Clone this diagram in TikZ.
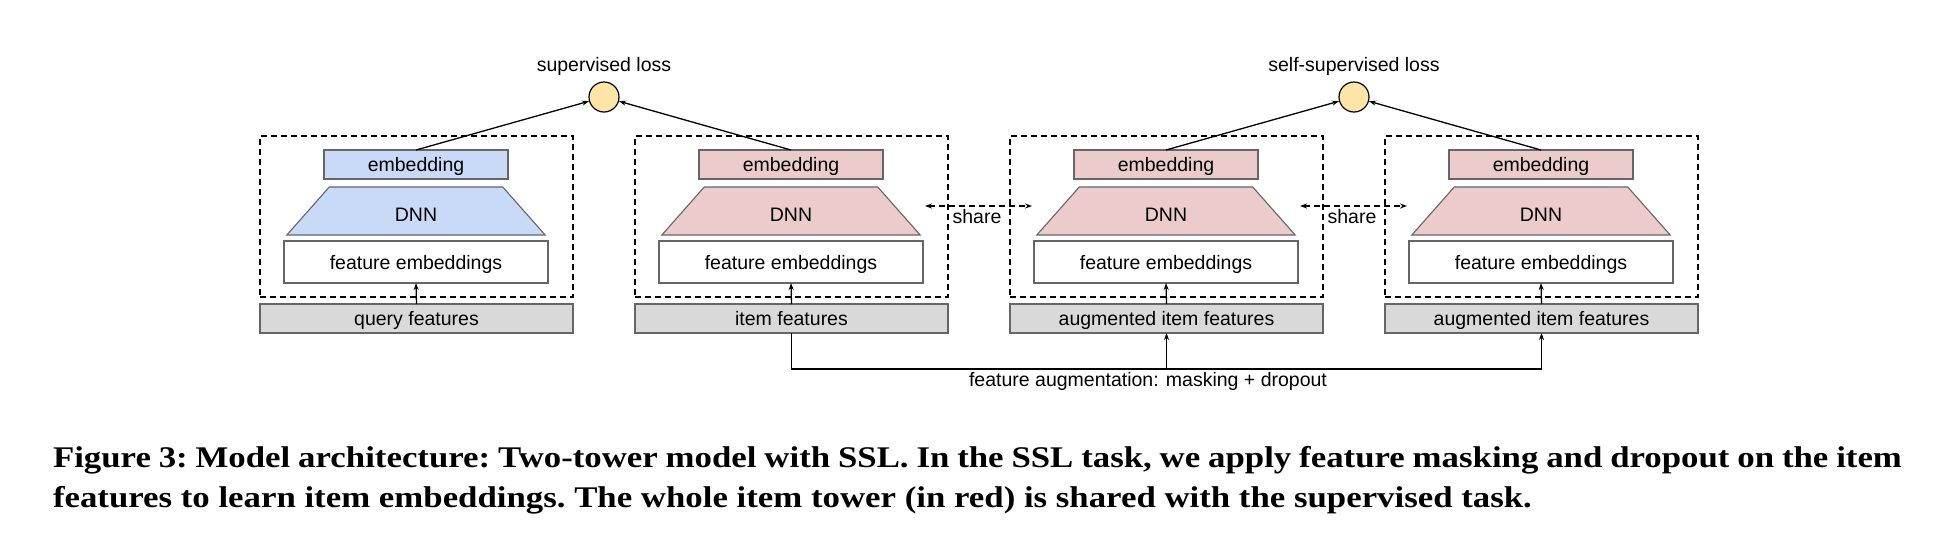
\documentclass[tikz,border=0pt]{standalone}
\usepackage{fontspec}
\setmainfont{Liberation Sans}
\newfontfamily\capfont[FakeStretch=1.16]{Liberation Serif}
\usetikzlibrary{arrows.meta,shapes.geometric}
\definecolor{qblue}{HTML}{C9DAF8}
\definecolor{ired}{HTML}{EBCBCB}
\definecolor{fgray}{HTML}{D9D9D9}
\definecolor{lossy}{HTML}{FCE5A6}
\definecolor{bord}{HTML}{666666}
\tikzset{
  lbl/.style={font=\fontsize{19.5}{22}\selectfont, inner sep=0pt, outer sep=0pt},
  baselbl/.style={lbl, anchor=base},
  boxed/.style={lbl, rectangle, draw=bord, line width=1.1pt, text height=14pt, text depth=0pt},
  towerbox/.style={rectangle, draw=black, line width=1.3pt, dash pattern=on 6pt off 4pt, inner sep=0pt},
  arr/.style={line width=1.3pt, -{Stealth[length=7pt,width=5pt]}},
  sharearr/.style={line width=1.3pt, dash pattern=on 6pt off 4pt, {Stealth[length=7pt,width=5pt]}-{Stealth[length=7pt,width=5pt]}},
  losscirc/.style={circle, draw=black, line width=1.2pt, fill=lossy, minimum size=30pt, inner sep=0pt},
  capline/.style={font=\capfont\bfseries\fontsize{30}{36}\selectfont\frenchspacing, inner sep=0pt, outer sep=0pt, anchor=base west}
}
\begin{document}
\begin{tikzpicture}[x=1pt,y=-1pt]
\useasboundingbox (0,0) rectangle (1946,558);
\fill[white] (0,0) rectangle (1946,558);
\foreach \cx/\col/\feat/\n in {416/qblue/query features/1, 791/ired/item features/2, 1166/ired/augmented item features/3, 1541/ired/augmented item features/4}{
  \node[towerbox, minimum width=313pt, minimum height=161pt] (tower\n) at (\cx+0.5,216.5) {};
  \node[boxed, fill=\col, minimum width=184pt, minimum height=29pt] (emb\n) at (\cx,164.5) {embedding};
  \node[lbl, draw=bord, line width=1.1pt, fill=\col, trapezium, trapezium angle=52.4, trapezium stretches=true, minimum width=260pt, minimum height=48pt] (dnn\n) at (\cx,211) {\phantom{DNN}};
  \node[baselbl] (dnnt\n) at (\cx,221.5) {DNN};
  \node[boxed, fill=white, minimum width=264pt, minimum height=42pt] (fe\n) at (\cx,262) {feature embeddings};
  \node[boxed, fill=fgray, minimum width=313pt, minimum height=29pt] (feat\n) at (\cx+0.5,318.5) {\feat};
  \draw[arr] (feat\n.north) -- (fe\n.south);
}
\node[losscirc] (sl) at (604,97) {};
\node[baselbl] (slt) at (604,71) {supervised loss};
\node[losscirc] (ssl) at (1354,97) {};
\node[baselbl] (sslt) at (1354,71) {self-supervised loss};
\draw[arr] (emb1.north) -- (sl);
\draw[arr] (emb2.north) -- (sl);
\draw[arr] (emb3.north) -- (ssl);
\draw[arr] (emb4.north) -- (ssl);
\coordinate (s1a) at (925,206);
\coordinate (s1b) at (1032,206);
\coordinate (s2a) at (1300,206);
\coordinate (s2b) at (1407,206);
\draw[sharearr] (s1a) -- (s1b);
\draw[sharearr] (s2a) -- (s2b);
\node[baselbl] (sh1) at (977,223) {share};
\node[baselbl] (sh2) at (1352,223) {share};
\coordinate (j2) at (791.5,369);
\coordinate (j3) at (1166.5,369);
\coordinate (j4) at (1541.5,369);
\draw[line width=1.3pt] (feat2.south) -- (j2) -- (j4);
\draw[arr] (j4) -- (feat4.south);
\draw[arr] (j3) -- (feat3.south);
\node[baselbl] (aug) at (1148,386) {feature augmentation: masking + dropout};
\node[capline] (cap1) at (53,467) {\makebox[1849pt][s]{Figure 3: Model architecture: Two-tower model with SSL. In the SSL task, we apply feature masking and dropout on the item}};
\node[capline] (cap2) at (53,507) {features to learn item embeddings. The whole item tower (in red) is shared with the supervised task.};
\end{tikzpicture}
\end{document}
